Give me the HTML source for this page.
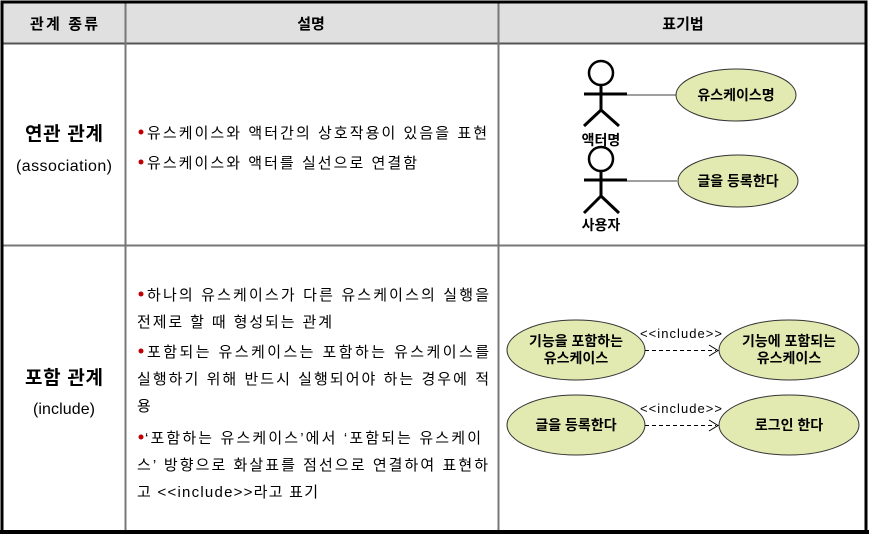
<!DOCTYPE html>
<html><head><meta charset="utf-8"><style>
html,body{margin:0;padding:0;background:#fff;}
svg{display:block;}
text{font-family:"Liberation Sans","Noto Sans CJK KR","NanumGothic",sans-serif;fill:#000;}
.d{font-size:15px;}
.b{font-weight:bold;}
</style></head><body>
<svg width="869" height="535" viewBox="0 0 869 535" xmlns="http://www.w3.org/2000/svg">
<rect x="2" y="2" width="864" height="41" fill="#e0e0e0"/>
<line x1="2" y1="43.5" x2="866" y2="43.5" stroke="#555" stroke-width="2"/>
<line x1="2" y1="245.5" x2="866" y2="245.5" stroke="#777" stroke-width="2"/>
<line x1="125.5" y1="2" x2="125.5" y2="532" stroke="#777" stroke-width="2"/>
<line x1="498.5" y1="2" x2="498.5" y2="532" stroke="#777" stroke-width="2"/>
<rect x="2" y="2" width="864" height="530" fill="none" stroke="#000" stroke-width="3"/>
<line x1="0" y1="532" x2="869" y2="532" stroke="#000" stroke-width="4"/>

<text x="64" y="29" text-anchor="middle" class="b" font-size="15" textLength="68">관계 종류</text>
<text x="311" y="29" text-anchor="middle" class="b" font-size="15">설명</text>
<text x="683" y="29" text-anchor="middle" class="b" font-size="15">표기법</text>

<text x="64" y="140" text-anchor="middle" class="b" font-size="19" textLength="78">연관 관계</text>
<text x="64" y="171" text-anchor="middle" font-size="16" textLength="96">(association)</text>
<text x="64" y="384" text-anchor="middle" class="b" font-size="19" textLength="78">포함 관계</text>
<text x="64" y="414" text-anchor="middle" font-size="16" textLength="62">(include)</text>

<g class="d">
<circle cx="141" cy="132" r="2.5" fill="#c00000"/>
<text x="147" y="138" class="d" textLength="340">유스케이스와 액터간의 상호작용이 있음을 표현</text>
<circle cx="141" cy="162" r="2.5" fill="#c00000"/>
<text x="147" y="168" class="d" textLength="270">유스케이스와 액터를 실선으로 연결함</text>

<circle cx="141" cy="294" r="2.5" fill="#c00000"/>
<text x="147" y="300" class="d" textLength="342">하나의 유스케이스가 다른 유스케이스의 실행을</text>
<text x="137" y="327" class="d" textLength="195">전제로 할 때 형성되는 관계</text>
<circle cx="141" cy="351" r="2.5" fill="#c00000"/>
<text x="147" y="357" class="d" textLength="342">포함되는 유스케이스는 포함하는 유스케이스를</text>
<text x="137" y="384" class="d" textLength="352">실행하기 위해 반드시 실행되어야 하는 경우에 적</text>
<text x="137" y="411" class="d">용</text>
<circle cx="141" cy="437" r="2.5" fill="#c00000"/>
<text x="145" y="443" class="d" textLength="336">‘포함하는 유스케이스’에서 ‘포함되는 유스케이</text>
<text x="137" y="470" class="d" textLength="351">스’ 방향으로 화살표를 점선으로 연결하여 표현하</text>
<text x="137" y="497" class="d" textLength="181">고 &lt;&lt;include&gt;&gt;라고 표기</text>
</g>

<g stroke="#000" stroke-width="3" fill="none">
<circle cx="601" cy="73" r="12" stroke-width="2.5"/>
<line x1="584" y1="94" x2="627" y2="94"/>
<line x1="601" y1="85" x2="601" y2="110"/>
<line x1="601" y1="110" x2="584" y2="126"/>
<line x1="601" y1="110" x2="619" y2="126"/>
<circle cx="601" cy="159" r="12" stroke-width="2.5"/>
<line x1="584" y1="180" x2="627" y2="180"/>
<line x1="601" y1="171" x2="601" y2="196"/>
<line x1="601" y1="196" x2="584" y2="213"/>
<line x1="601" y1="196" x2="619" y2="213"/>
</g>
<text x="601" y="145" text-anchor="middle" class="b" font-size="14">액터명</text>
<text x="601" y="230" text-anchor="middle" class="b" font-size="14">사용자</text>
<line x1="627" y1="95" x2="676" y2="95" stroke="#666" stroke-width="1.2"/>
<line x1="627" y1="181" x2="677" y2="181" stroke="#666" stroke-width="1.2"/>
<g fill="#e2eab1" stroke="#333" stroke-width="1">
<ellipse cx="736" cy="95" rx="60" ry="26"/>
<ellipse cx="738" cy="181" rx="60" ry="26"/>
<ellipse cx="576" cy="350" rx="69" ry="30"/>
<ellipse cx="789" cy="350" rx="70" ry="30"/>
<ellipse cx="576" cy="425" rx="69" ry="30"/>
<ellipse cx="789" cy="425" rx="70" ry="30"/>
</g>
<g class="b" font-size="14" text-anchor="middle">
<text x="736" y="100">유스케이스명</text>
<text x="738" y="186">글을 등록한다</text>
<text x="576" y="346">기능을 포함하는</text>
<text x="576" y="363">유스케이스</text>
<text x="789" y="346">기능에 포함되는</text>
<text x="789" y="363">유스케이스</text>
<text x="576" y="430">글을 등록한다</text>
<text x="789" y="430">로그인 한다</text>
</g>
<g stroke="#000" stroke-width="1" fill="none">
<line x1="645" y1="350.5" x2="716" y2="350.5" stroke-dasharray="4,3"/>
<polyline points="709,345 718,350.5 709,356"/>
<line x1="645" y1="425.5" x2="716" y2="425.5" stroke-dasharray="4,3"/>
<polyline points="709,420 718,425.5 709,431"/>
</g>
<text x="640" y="338" font-size="13" textLength="82">&lt;&lt;include&gt;&gt;</text>
<text x="640" y="413" font-size="13" textLength="82">&lt;&lt;include&gt;&gt;</text>
</svg>
</body></html>
